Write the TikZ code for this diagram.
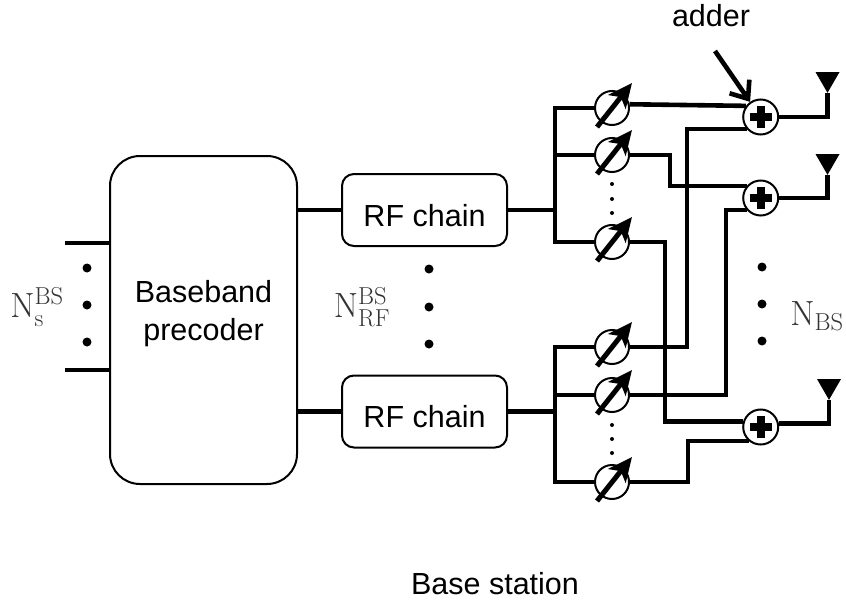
\documentclass[tikz,border=0pt]{standalone}
\usepackage{fix-cm}
\usepackage[no-math]{fontspec}
\setmainfont{Liberation Sans}
\usetikzlibrary{arrows.meta,shapes.geometric,calc}
\usetikzlibrary{positioning}
\tikzset{
    block/.style={
           rectangle,
           draw=black, line width=2pt,
           fill=white,
           text centered,
           align=center,
           },
    wire/.style={
           line width=4.6pt,
           miter limit=4,},
    shifter/.style={
           circle,
           draw=black, line width=2pt,
           fill=white,
           minimum size=34pt,
           inner sep=0pt,},
    adder/.style={
           circle,
           draw=black, line width=2pt,
           fill=white,
           minimum size=35pt,
           inner sep=0pt,
           path picture={
             \draw[line width=8pt] ($(path picture bounding box.center)+(-11,0)$) -- ($(path picture bounding box.center)+(11,0)$);
             \draw[line width=8pt] ($(path picture bounding box.center)+(0,-11)$) -- ($(path picture bounding box.center)+(0,11)$);
           },},
    antenna/.style={
           regular polygon,
           regular polygon sides=3,
           shape border rotate=180,
           fill=black,
           minimum size=27.7pt,
           inner sep=0pt,
           outer sep=0pt,},
    bigdot/.style={circle,fill=black,minimum size=9pt,inner sep=0pt},
    smalldot/.style={circle,fill=black,minimum size=4pt,inner sep=0pt},
    mathlabel/.style={inner sep=0pt,text=black!80,font=\fontsize{35}{38}\selectfont},
}

\begin{document}
\begin{tikzpicture}[x=1pt,y=-1pt,font=\fontsize{30.5}{38}\selectfont]
\useasboundingbox (0,0) rectangle (846,602);
% Baseband block and RF chains
\node[block,
minimum width = 187pt,
minimum height = 328pt,
rounded corners = 30pt] (BASE) at (203.5,320)
{Baseband\\
precoder\\[-18pt]
};
\node[block,
minimum width = 165pt,
minimum height = 72pt,
text height = 32pt,
text depth = 0pt,
rounded corners = 12pt] (RF1) at (424.5,210) {RF chain};
\node[block,
minimum width = 165pt,
minimum height = 72pt,
text height = 32pt,
text depth = 0pt,
rounded corners = 12pt,
below of = RF1,
node distance = 201.5pt] (RF2) {RF chain};
% Phase shifters, upper group
\node[shifter] (PS1) at (612,108) {};
\node[shifter, below of = PS1, node distance = 47pt] (PS2) {};
\node[shifter, below of = PS2, node distance = 87pt] (PS3) {};
% Phase shifters, lower group
\node[shifter] (PS4) at (612,347) {};
\node[shifter, below of = PS4, node distance = 48pt] (PS5) {};
\node[shifter, below of = PS5, node distance = 87pt] (PS6) {};
% Adders
\node[adder] (ADD1) at (760.7,117) {};
\node[adder, below of = ADD1, node distance = 81pt] (ADD2) {};
\node[adder] (ADD3) at (760.7,427) {};
% Antennas
\node[antenna] (ANT1) at (827.5,79) {};
\node[antenna] (ANT2) at (827.5,161) {};
\node[antenna] (ANT3) at (829,386) {};
% Bus points and corners
\coordinate (BUS1) at (555,210);
\coordinate (BUS2) at (555,411.5);
\coordinate (X1) at (687,0);
\coordinate (X2) at (670,0);
\coordinate (X3) at (726,0);
\coordinate (X4) at (665,0);
\coordinate (X5) at (688,0);
\coordinate (END) at (65,243);
\coordinate (END2) at (65,370);
% Input lines
\draw[wire] (END) -- (END -| BASE.west);
\draw[wire] (END2) -- (END2 -| BASE.west);
% Lines to the RF chains
\draw[wire] (BASE.east |- RF1) -- (RF1.west);
\draw[wire] (BASE.east |- RF2) -- (RF2.west);
% Lines to the buses
\draw[wire] (RF1.east) -- (BUS1);
\draw[wire] (RF2.east) -- (BUS2);
\draw[wire] (PS1.west) -| (BUS1) |- (PS3.west);
\draw[wire] (BUS1 |- PS2.west) -- (PS2.west);
\draw[wire] (PS4.west) -| (BUS2) |- (PS6.west);
\draw[wire] (BUS2 |- PS5.west) -- (PS5.west);
% Lines to the adders
\draw[wire] (PS1.12) -- (ADD1.143);
\draw[wire] (PS2.east) -| (X2 |- ADD2.140) -- (ADD2.140);
\draw[wire] (PS3.east) -| (X4 |- ADD3.163) -- (ADD3.163);
\draw[wire] (PS4.east) -| (X1 |- ADD1.221) -- (ADD1.221);
\draw[wire] (PS5.east) -| (X3 |- ADD2.221) -- (ADD2.221);
\draw[wire] (PS6.east) -| (X5 |- ADD3.230) -- (ADD3.230);
% Lines to the antennas
\draw[wire] (ADD1.east) -| (ANT1.corner 1);
\draw[wire] (ADD2.east) -| (ANT2.corner 1);
\draw[wire] (ADD3.10) -| (ANT3.corner 1);
% Arrows through the shifters
\foreach \ps in {PS1,PS2,PS3,PS4,PS5,PS6}
  \draw[line width=5pt,-{Stealth[length=24pt,width=22pt,inset=6pt]}] ($(\ps)+(-15,19)$) -- ($(\ps)+(20,-25)$);
% Arrow from the adder label
\node (ADDER) at (711,16) {adder};
\coordinate (TAIL) at (715,51);
\draw[line width=4.6pt,-{Straight Barb[length=15pt,width=24pt]}] (TAIL) -- (ADD1.125);
% Dots
\foreach \y [count=\i] in {268,305,342}
  \node[bigdot] (DL\i) at (87,\y) {};
\foreach \y [count=\i] in {269,307,344}
  \node[bigdot] (DM\i) at (429,\y) {};
\foreach \y [count=\i] in {267,304,341}
  \node[bigdot] (DR\i) at (762,\y) {};
\foreach \y [count=\i] in {184,199,213}
  \node[smalldot] (DA\i) at (612,\y) {};
\foreach \y [count=\i] in {425,439,453}
  \node[smalldot] (DB\i) at (612,\y) {};
% Labels
\node[mathlabel] (NS) at (37,307) {$\mathrm{N_s^{BS}}$};
\node[mathlabel] (NRF) at (362,307) {$\mathrm{N_{RF}^{BS}}$};
\node[mathlabel] (NBS) at (817,316) {$\mathrm{N_{BS}}$};
\node (STATION) at (495,584) {Base station};
\end{tikzpicture}
\end{document}
